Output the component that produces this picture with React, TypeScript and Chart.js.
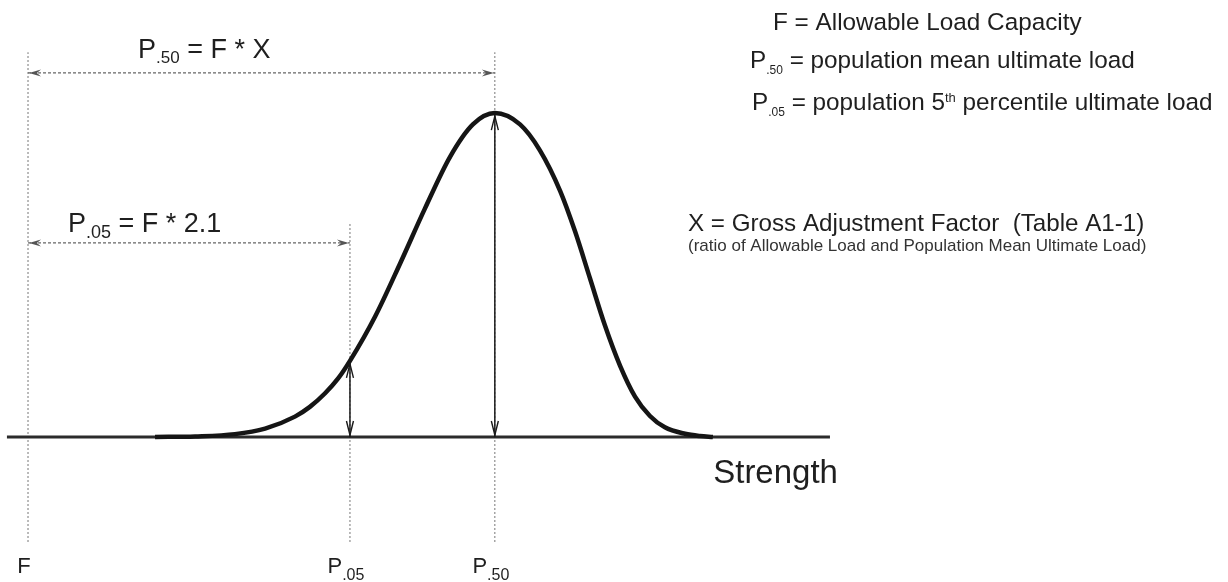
import React, { useEffect, useRef } from 'react';
import { Chart, registerables } from 'chart.js';

Chart.register(...registerables);

// ---- Data (strength axis expressed in multiples of F) ----
const markerLabels = ['F', 'P.05', 'P.50'];
const markerValues = [1.0, 2.1, 2.595];

// strength distribution curve (relative density, peak = 1)
const curveX = [
  1.434, 1.571, 1.707, 1.81, 1.912, 1.963, 2.015, 2.059, 2.1, 2.186, 2.271, 2.356, 2.442, 2.52, 2.595,
  2.681, 2.749, 2.818, 2.869, 2.92, 2.971, 3.023, 3.074, 3.125, 3.176, 3.245, 3.296, 3.34,
];
const curveY = [
  0, 0.002, 0.009, 0.026, 0.063, 0.093, 0.135, 0.18, 0.235, 0.372, 0.535, 0.705, 0.865, 0.965, 1.0,
  0.965, 0.885, 0.76, 0.635, 0.49, 0.345, 0.22, 0.125, 0.065, 0.03, 0.01, 0.003, 0,
];

// extent of the strength axis line
const axisExtent = [0.928, 3.74];

// texts
const formulaP50 = ['P', '.50', ' = F * X'];
const formulaP05 = ['P', '.05', ' = F * 2.1'];
const legendRow1 = ['F = Allowable Load Capacity'];
const legendRow2 = ['P', '.50', ' = population mean ultimate load'];
const legendRow3 = ['P', '.05', ' = population 5', 'th', ' percentile ultimate load'];
const factorTitle = 'X = Gross Adjustment Factor  (Table A1-1)';
const factorNote = '(ratio of Allowable Load and Population Mean Ultimate Load)';
const axisTitle = 'Strength';

// ---- Layout (y in density units) ----
const LAYOUT = {
  xMin: 0.9043,
  xMax: 5.1,
  yMin: -0.4475,
  yMax: 1.349,
  guideTop: 1.188,
  guideTopP05: 0.664,
  guideBottom: -0.324,
  arrowLevelP50: 1.124,
  arrowLevelP05: 0.599,
};

const FONT = '"Liberation Sans", Arial, Helvetica, sans-serif';
const TEXT = '#1f1f1f';

type Part = { t: string; size: number; dy: number };

function drawParts(ctx: CanvasRenderingContext2D, x: number, y: number, parts: Part[], align = 'left') {
  const widths = parts.map((p) => {
    ctx.font = `${p.size}px ${FONT}`;
    return ctx.measureText(p.t).width;
  });
  const total = widths.reduce((a, b) => a + b, 0);
  let cx = align === 'center' ? x - total / 2 : align === 'right' ? x - total : x;
  ctx.textAlign = 'left';
  ctx.textBaseline = 'alphabetic';
  parts.forEach((p, i) => {
    ctx.font = `${p.size}px ${FONT}`;
    ctx.fillText(p.t, cx, y + p.dy);
    cx += widths[i];
  });
}

function curveAt(x: number) {
  for (let i = 0; i < curveX.length - 1; i++) {
    if (x >= curveX[i] && x <= curveX[i + 1]) {
      const t = (x - curveX[i]) / (curveX[i + 1] - curveX[i]);
      return curveY[i] + t * (curveY[i + 1] - curveY[i]);
    }
  }
  return 0;
}

function filledHead(ctx: CanvasRenderingContext2D, tx: number, ty: number, dx: number, dy: number, len: number, hw: number) {
  const bx = tx - dx * len;
  const by = ty - dy * len;
  const nx = -dy;
  const ny = dx;
  ctx.beginPath();
  ctx.moveTo(tx, ty);
  ctx.lineTo(bx + nx * hw, by + ny * hw);
  ctx.lineTo(tx - dx * len * 0.65, ty - dy * len * 0.65);
  ctx.lineTo(bx - nx * hw, by - ny * hw);
  ctx.closePath();
  ctx.fill();
}

function openHead(ctx: CanvasRenderingContext2D, tx: number, ty: number, dx: number, dy: number, len: number, hw: number) {
  const bx = tx - dx * len;
  const by = ty - dy * len;
  const nx = -dy;
  const ny = dx;
  ctx.beginPath();
  ctx.moveTo(bx + nx * hw, by + ny * hw);
  ctx.lineTo(tx, ty);
  ctx.lineTo(bx - nx * hw, by - ny * hw);
  ctx.stroke();
}

const annotationPlugin = {
  id: 'annotations',
  beforeDraw(chart: any) {
    const { ctx, width, height } = chart;
    ctx.save();
    ctx.fillStyle = '#ffffff';
    ctx.fillRect(0, 0, width, height);
    ctx.restore();
  },
  afterDatasetsDraw(chart: any) {
    const { ctx } = chart;
    const xs = chart.scales.x;
    const ys = chart.scales.y;
    const px = (v: number) => xs.getPixelForValue(v);
    const py = (v: number) => ys.getPixelForValue(v);
    const [xF, x05, x50] = markerValues.map(px);
    const yBase = py(0);

    ctx.save();
    // dotted arrow heads
    ctx.fillStyle = '#555';
    const y50 = py(LAYOUT.arrowLevelP50);
    const y05 = py(LAYOUT.arrowLevelP05);
    filledHead(ctx, xF + 1, y50, -1, 0, 12, 3.5);
    filledHead(ctx, x50 - 1, y50, 1, 0, 12, 3.5);
    filledHead(ctx, xF + 1, y05, -1, 0, 12, 3.5);
    filledHead(ctx, x05 - 1, y05, 1, 0, 12, 3.5);

    // solid vertical arrow heads
    ctx.strokeStyle = '#1a1a1a';
    ctx.lineWidth = 1.4;
    [markerValues[1], markerValues[2]].forEach((m) => {
      const x = px(m);
      const top = py(curveAt(m)) + 3;
      openHead(ctx, x, top, 0, -1, 14, 3.5);
      openHead(ctx, x, yBase - 2, 0, 1, 14, 3.5);
    });

    // texts
    ctx.fillStyle = TEXT;
    drawParts(ctx, xF + 110, y50 - 15, [
      { t: formulaP50[0], size: 27, dy: 0 },
      { t: formulaP50[1], size: 17, dy: 5 },
      { t: formulaP50[2], size: 27, dy: 0 },
    ]);
    drawParts(ctx, xF + 40, y05 - 11, [
      { t: formulaP05[0], size: 27, dy: 0 },
      { t: formulaP05[1], size: 18, dy: 6 },
      { t: formulaP05[2], size: 27, dy: 0 },
    ]);

    // marker labels under the axis
    const labelBase = yBase + 136;
    markerLabels.forEach((lab, i) => {
      const x = px(markerValues[i]) - 4;
      const parts: Part[] = [{ t: lab.charAt(0), size: 22, dy: 0 }];
      if (lab.length > 1) parts.push({ t: lab.slice(1), size: 16, dy: 7 });
      drawParts(ctx, x, labelBase, parts, 'center');
    });

    // axis title
    drawParts(ctx, px(axisExtent[1]) + 8, yBase + 46, [{ t: axisTitle, size: 33, dy: 0 }], 'right');

    // legend block (top right)
    const W = chart.width;
    const lx = W - 455;
    const fs = 24.3;
    drawParts(ctx, lx, 30, [{ t: legendRow1[0], size: fs, dy: 0 }]);
    drawParts(ctx, lx - 23, 68, [
      { t: legendRow2[0], size: fs, dy: 0 },
      { t: legendRow2[1], size: 12, dy: 6 },
      { t: legendRow2[2], size: fs, dy: 0 },
    ]);
    drawParts(ctx, lx - 21, 110, [
      { t: legendRow3[0], size: fs, dy: 0 },
      { t: legendRow3[1], size: 12, dy: 6 },
      { t: legendRow3[2], size: fs, dy: 0 },
      { t: legendRow3[3], size: 13, dy: -8 },
      { t: legendRow3[4], size: fs, dy: 0 },
    ]);

    // factor description
    drawParts(ctx, lx - 85, 231, [{ t: factorTitle, size: 24.2, dy: 0 }]);
    ctx.fillStyle = '#333';
    drawParts(ctx, lx - 85, 251, [{ t: factorNote, size: 17, dy: 0 }]);
    ctx.restore();
  },
};

export default function App() {
  const canvasRef = useRef<HTMLCanvasElement | null>(null);

  useEffect(() => {
    if (!canvasRef.current) return;
    const curve = curveX.map((x, i) => ({ x, y: curveY[i] }));
    const [mF, m05, m50] = markerValues;
    const line = (data: any[], extra: any) => ({
      data,
      showLine: true,
      pointRadius: 0,
      pointHoverRadius: 0,
      fill: false,
      clip: false,
      ...extra,
    });
    const chart = new Chart(canvasRef.current, {
      type: 'scatter',
      data: {
        datasets: [
          line(curve, { borderColor: '#151515', borderWidth: 4.5, cubicInterpolationMode: 'monotone' }),
          line([{ x: m05, y: 0 }, { x: m05, y: curveAt(m05) }], { borderColor: '#1a1a1a', borderWidth: 1.5 }),
          line([{ x: m50, y: 0 }, { x: m50, y: curveAt(m50) }], { borderColor: '#1a1a1a', borderWidth: 1.5 }),
          line([{ x: axisExtent[0], y: 0 }, { x: axisExtent[1], y: 0 }], { borderColor: '#2b2b2b', borderWidth: 3 }),
          line([{ x: mF, y: LAYOUT.arrowLevelP50 }, { x: m50, y: LAYOUT.arrowLevelP50 }], {
            borderColor: '#666', borderWidth: 1.2, borderDash: [3, 2],
          }),
          line([{ x: mF, y: LAYOUT.arrowLevelP05 }, { x: m05, y: LAYOUT.arrowLevelP05 }], {
            borderColor: '#666', borderWidth: 1.2, borderDash: [3, 2],
          }),
          line([{ x: mF, y: LAYOUT.guideBottom }, { x: mF, y: LAYOUT.guideTop }], {
            borderColor: '#777', borderWidth: 1, borderDash: [2, 2],
          }),
          line([{ x: m05, y: LAYOUT.guideBottom }, { x: m05, y: LAYOUT.guideTopP05 }], {
            borderColor: '#777', borderWidth: 1, borderDash: [2, 2],
          }),
          line([{ x: m50, y: LAYOUT.guideBottom }, { x: m50, y: LAYOUT.guideTop }], {
            borderColor: '#777', borderWidth: 1, borderDash: [2, 2],
          }),
        ],
      },
      options: {
        animation: false,
        responsive: true,
        maintainAspectRatio: false,
        devicePixelRatio: 1,
        layout: { padding: 0 },
        events: [],
        plugins: { legend: { display: false }, tooltip: { enabled: false } },
        scales: {
          x: { type: 'linear', min: LAYOUT.xMin, max: LAYOUT.xMax, display: false },
          y: { type: 'linear', min: LAYOUT.yMin, max: LAYOUT.yMax, display: false },
        },
      },
      plugins: [annotationPlugin],
    });
    return () => chart.destroy();
  }, []);

  return (
    <div style={{ position: 'absolute', left: 0, top: 0, width: 1228, height: 582, background: '#fff' }}>
      <canvas ref={canvasRef} />
    </div>
  );
}
